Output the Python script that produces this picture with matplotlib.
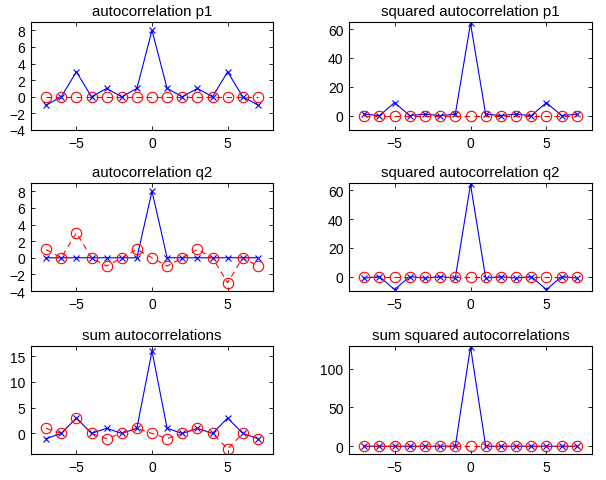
import matplotlib
matplotlib.use("Agg")
import matplotlib.pyplot as plt
import numpy as np

plt.rcParams["font.family"] = ["Liberation Sans", "DejaVu Sans"]
plt.rcParams["font.size"] = 10

lags = np.arange(-7, 8)

# real part (blue) and imaginary part (red) of each autocorrelation
p1_re = [-1, 0, 3, 0, 1, 0, 1, 8, 1, 0, 1, 0, 3, 0, -1]
p1_im = [0, 0, 0, 0, 0, 0, 0, 0, 0, 0, 0, 0, 0, 0, 0]
q2_re = [0, 0, 0, 0, 0, 0, 0, 8, 0, 0, 0, 0, 0, 0, 0]
q2_im = [1, 0, 3, 0, -1, 0, 1, 0, -1, 0, 1, 0, -3, 0, -1]
sum_re = [-1, 0, 3, 0, 1, 0, 1, 16, 1, 0, 1, 0, 3, 0, -1]
sum_im = [1, 0, 3, 0, -1, 0, 1, 0, -1, 0, 1, 0, -3, 0, -1]

sq_p1_re = [1, 0, 9, 0, 1, 0, 1, 64, 1, 0, 1, 0, 9, 0, 1]
sq_p1_im = [0] * 15
sq_q2_re = [-1, 0, -9, 0, -1, 0, -1, 64, -1, 0, -1, 0, -9, 0, -1]
sq_q2_im = [0] * 15
sq_sum_re = [0, 0, 0, 0, 0, 0, 0, 128, 0, 0, 0, 0, 0, 0, 0]
sq_sum_im = [0] * 15

panels = [
    ("autocorrelation p1", p1_re, p1_im, (-4, 9), [-4, -2, 0, 2, 4, 6, 8]),
    ("squared autocorrelation p1", sq_p1_re, sq_p1_im, (-10, 65), [0, 20, 40, 60]),
    ("autocorrelation q2", q2_re, q2_im, (-4, 9), [-4, -2, 0, 2, 4, 6, 8]),
    ("squared autocorrelation q2", sq_q2_re, sq_q2_im, (-10, 65), [0, 20, 40, 60]),
    ("sum autocorrelations", sum_re, sum_im, (-4, 17), [0, 5, 10, 15]),
    ("sum squared autocorrelations", sq_sum_re, sq_sum_im, (-10, 129), [0, 50, 100]),
]

W, H = 606, 481
fig = plt.figure(figsize=(W / 100, H / 100), dpi=100)

col_x = [(31, 273), (349, 592)]
row_y = [(23, 131), (184, 292), (347, 455)]

for i, (title, re, im, ylim, yticks) in enumerate(panels):
    r, c = divmod(i, 2)
    x0, x1 = col_x[c]
    y0, y1 = row_y[r]
    ax = fig.add_axes([x0 / W, 1 - y1 / H, (x1 - x0) / W, (y1 - y0) / H])
    ax.plot(lags, re, "bx-", linewidth=0.8, markersize=5, markeredgewidth=0.8)
    ax.plot(lags, im, "ro--", linewidth=0.8, markersize=7.5,
            markerfacecolor="none", markeredgewidth=0.8, dashes=(5, 4))
    ax.set_xlim(-8, 8)
    ax.set_ylim(*ylim)
    ax.set_xticks([-5, 0, 5])
    ax.set_xticklabels(["\u22125", "0", "5"])
    ax.set_yticks(yticks)
    ax.set_yticklabels([str(t).replace("-", "\u2212") for t in yticks])
    ax.tick_params(direction="in", top=True, right=True, length=3, width=0.6, pad=4)
    for s in ax.spines.values():
        s.set_linewidth(0.8)
    ax.set_title(title, fontsize=10.8, pad=5)

fig.savefig("out.png", dpi=100)
